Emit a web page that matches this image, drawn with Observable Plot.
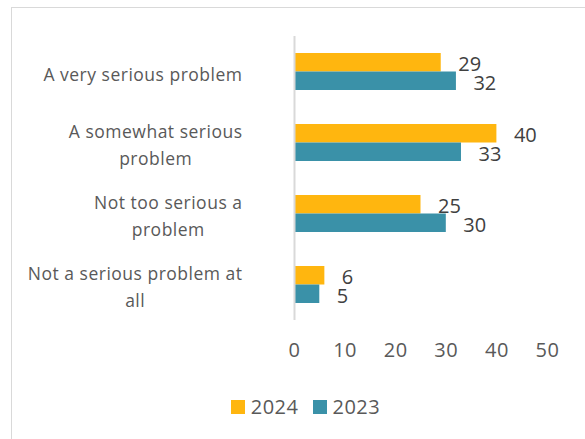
<!DOCTYPE html>
<html>
<head>
<meta charset="utf-8">
<script src="https://cdn.jsdelivr.net/npm/d3@7"></script>
<script src="https://cdn.jsdelivr.net/npm/@observablehq/plot@0.6"></script>
<style>
  html, body { margin: 0; padding: 0; background: #fff; width: 585px; height: 439px; overflow: hidden; }
  body { position: relative; font-family: "Open Sans", sans-serif; }
  #frame { position: absolute; left: 11px; top: 7px; width: 640px; height: 480px; border: 1px solid #d9d9d9; box-sizing: border-box; }
  #chart { position: absolute; left: 0; top: 0; }
  #legend { position: absolute; left: 11px; top: 393px; width: 589px; display: flex; justify-content: center; align-items: center; font-size: 20px; color: #595959; letter-spacing: 0.5px; }
  .item { display: flex; align-items: center; margin: 0 7px; }
  .sw { width: 14px; height: 14px; margin-right: 6px; }
</style>
</head>
<body>
<div id="frame"></div>
<div id="chart"></div>
<div id="legend"></div>
<script>
const categories = [
  "A very serious problem",
  "A somewhat serious problem",
  "Not too serious a problem",
  "Not a serious problem at all"
];
const categoryLabels = [
  "A very serious problem",
  "A somewhat serious\nproblem",
  "Not too serious a\nproblem",
  "Not a serious problem at\nall"
];
const values2024 = [29, 40, 25, 6];
const values2023 = [32, 33, 30, 5];
const xTicks = [0, 10, 20, 30, 40, 50];
const seriesNames = ["2024", "2023"];
const seriesColors = ["#FFB60F", "#3A91A8"];

const d24 = categories.map((c, i) => ({category: c, value: values2024[i]}));
const d23 = categories.map((c, i) => ({category: c, value: values2023[i]}));
const labelOf = new Map(categories.map((c, i) => [c, categoryLabels[i]]));

const plot = Plot.plot({
  width: 585,
  height: 380,
  marginTop: 36,
  marginBottom: 60,
  marginLeft: 294,
  marginRight: 38,
  style: {fontFamily: "'Open Sans', sans-serif", background: "transparent", overflow: "visible"},
  x: {domain: [0, 50], ticks: xTicks},
  y: {domain: categories, paddingInner: 0.48, paddingOuter: 0.24},
  marks: [
    Plot.barX(d24, {x: "value", y: "category", fill: seriesColors[0], insetBottom: 18.5}),
    Plot.barX(d23, {x: "value", y: "category", fill: seriesColors[1], insetTop: 18.5}),
    Plot.ruleX([0], {stroke: "#d9d9d9", strokeWidth: 2}),
    Plot.text(d24, {x: "value", y: "category", text: d => String(d.value), dx: 17, dy: -7, textAnchor: "start", fontSize: 20, fill: "#404040"}),
    Plot.text(d23, {x: "value", y: "category", text: d => String(d.value), dx: 17, dy: 11.5, textAnchor: "start", fontSize: 20, fill: "#404040"}),
    Plot.axisX({ticks: xTicks, tickSize: 0, tickPadding: 22, fontSize: 20, color: "#595959", label: null}),
    Plot.axisY({tickSize: 0, tickPadding: 52, fontSize: 17.5, color: "#595959", label: null, lineHeight: 1.54, tickFormat: d => labelOf.get(d)})
  ]
});
document.getElementById("chart").appendChild(plot);

// letter spacing and centered lines for the category labels
const yLabelGroup = plot.querySelector('g[aria-label="y-axis tick label"]');
if (yLabelGroup) yLabelGroup.setAttribute("letter-spacing", "0.5");
plot.querySelectorAll('g[aria-label="x-axis tick label"]').forEach(g => g.setAttribute("letter-spacing", "0.5"));
plot.querySelectorAll('g[aria-label="y-axis tick label"] text').forEach(t => {
  const spans = Array.from(t.querySelectorAll("tspan"));
  if (spans.length < 2) return;
  const widths = spans.map(s => s.getComputedTextLength());
  const maxW = Math.max(...widths);
  spans.forEach((s, i) => s.setAttribute("x", -(maxW - widths[i]) / 2));
});

const legend = document.getElementById("legend");
seriesNames.forEach((n, i) => {
  const item = document.createElement("div");
  item.className = "item";
  const sw = document.createElement("div");
  sw.className = "sw";
  sw.style.background = seriesColors[i];
  const lab = document.createElement("span");
  lab.textContent = n;
  item.appendChild(sw);
  item.appendChild(lab);
  legend.appendChild(item);
});
</script>
</body>
</html>
